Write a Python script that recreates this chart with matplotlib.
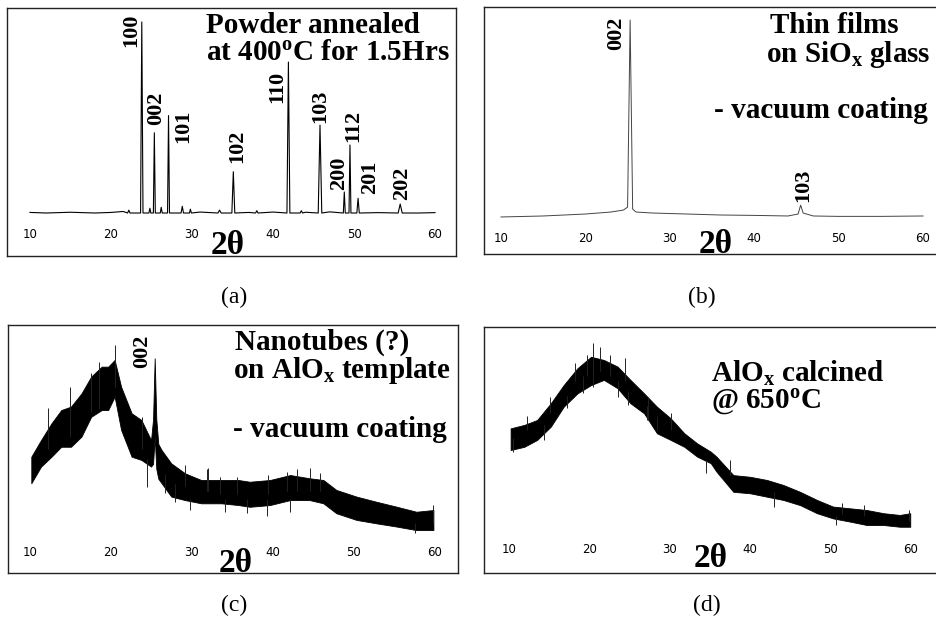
import matplotlib
matplotlib.use("Agg")
import matplotlib.pyplot as plt

plt.rcParams["font.family"] = "DejaVu Sans"
plt.rcParams["mathtext.fontset"] = "custom"
plt.rcParams["mathtext.rm"] = "Liberation Serif:bold"
plt.rcParams["mathtext.it"] = "Liberation Serif:bold"
plt.rcParams["mathtext.bf"] = "Liberation Serif:bold"

W, H = 936, 621
SERIF = "Liberation Serif"

ticks = [10, 20, 30, 40, 50, 60]

# (a) powder annealed at 400C - peak positions (2theta), heights, half widths
a_peak_pos = [22.2, 23.8, 24.8, 25.35, 26.2, 27.1, 28.8, 29.8, 33.4, 35.1, 38.0, 41.9, 43.5, 45.8, 48.8, 49.5, 50.5, 55.7]
a_peak_h = [1.5, 100, 2.5, 42, 3, 51, 3.5, 2, 1.5, 21.6, 1.2, 79, 1.2, 46, 11, 35.6, 7.7, 4.7]
a_peak_w = [0.15, 0.15, 0.12, 0.12, 0.12, 0.12, 0.15, 0.12, 0.2, 0.18, 0.15, 0.18, 0.15, 0.22, 0.12, 0.12, 0.15, 0.25]
a_base_x = [10, 12, 15, 18, 20, 21.5, 31, 37, 40, 44, 47, 53, 58, 60]
a_base_y = [0.3, 0.0, 0.4, 0.0, 0.3, 0.8, 0.5, 0.3, 0.5, 0.4, 0.6, 0.2, 0.0, 0.2]
a_labels = ["100", "002", "101", "102", "110", "103", "200", "112", "201", "202"]
a_label_x = [22.47, 25.53, 28.93, 35.6, 40.56, 45.8, 48.15, 49.85, 51.98, 55.99]
a_label_y = [86.9, 46.0, 36.6, 26.2, 57.6, 47.1, 12.0, 37.2, 10.0, 6.8]

# (b) thin film on SiOx glass
b_x = [10, 15, 20, 23, 24.5, 25.0, 25.3, 25.6, 26, 28, 32, 36, 40, 44, 45.2, 45.5, 45.8, 47, 50, 55, 60]
b_y = [0, 0.5, 1.5, 2.5, 3.5, 5, 100, 4, 2.5, 2, 1.5, 1, 0.8, 0.5, 1.5, 6, 2, 0.5, 0.3, 0.3, 0.5]
b_labels = ["002", "103"]
b_label_x = [23.66, 45.78]
b_label_y = [84.8, 7.6]

# (c) nanotubes on AlOx template - noisy band (upper / lower envelope)
c_x = [10.2, 11.4, 12.7, 13.9, 15.1, 16.4, 17.6, 18.9, 19.7, 20.5, 21.3, 22.6, 23.8, 25.0, 25.25,
       25.45, 25.65, 25.9, 26.3, 27.5, 29.2, 31.2, 33.7, 35.8, 37.2, 39.7, 42.2, 44.6, 46.3, 47.9,
       50.4, 52.9, 55.4, 57.8, 59.9]
c_hi = [46.9, 53.6, 60.4, 65.7, 67.1, 72.4, 79.2, 83.2, 83.2, 85.9, 75.1, 64.4, 61.7, 53.6, 62,
        86.6, 62, 52, 49.6, 44.2, 40.2, 37.5, 37.5, 37.5, 36.8, 37.5, 39.5, 38.2, 37.5, 33.5,
        30.8, 28.7, 26.7, 24.7, 25.4]
c_lo = [36.2, 42.9, 46.9, 50.9, 50.9, 55.0, 63.0, 65.7, 65.7, 71.1, 57.7, 46.9, 45.6, 42.9, 44,
        55, 42, 38, 36.2, 30.8, 29.4, 28.1, 28.1, 27.4, 26.7, 27.4, 29.4, 29.4, 28.1, 24.1,
        21.4, 20.0, 18.7, 17.3, 17.3]
c_spike_x = [12.3, 14.95, 17.6, 18.6, 20.5, 23.9, 24.5, 26.7, 28.0, 29.2, 29.8, 31.9, 32.0,
             33.5, 34.1, 35.6, 36.8, 39.3, 39.5, 41.8, 42.2, 43.0, 44.6, 45.9, 57.6, 59.9]
c_spike_lo = [50, 55, 65, 66, 75, 50, 34.8, 32.1, 28.8, 35, 25.4, 33, 33,
              32, 24.7, 32, 24.1, 23.0, 32, 33, 24.7, 33, 33, 33, 16.0, 20]
c_spike_hi = [66.4, 75.1, 80.5, 85.2, 91.9, 63.0, 46, 40, 36, 43.5, 30, 41.8, 42.2,
              38.8, 30, 38.8, 30, 30, 39.5, 40.8, 30, 41.8, 42.5, 40.2, 20, 27.4]
c_labels = ["002"]
c_label_x = [23.94]
c_label_y = [82.7]

# (d) AlOx calcined at 650C
d_x = [10.2, 11.9, 13.5, 15.2, 16.8, 18.5, 20.2, 21.8, 23.5, 25.1, 26.8, 28.4, 30.1, 31.8, 33.4,
       35.1, 35.8, 37.9, 40.0, 42.1, 44.1, 46.2, 48.3, 50.3, 52.4, 54.5, 56.6, 58.6, 59.9]
d_hi = [58.8, 60.2, 62.2, 69.0, 76.4, 83.2, 87.9, 86.6, 83.9, 78.5, 73.0, 67.6, 62.9, 56.8, 52.7,
        49.3, 47.3, 39.8, 39.1, 37.8, 35.8, 33.0, 29.7, 27.0, 26.3, 25.6, 24.3, 23.6, 24.3]
d_lo = [50.0, 51.3, 54.1, 59.5, 67.6, 73.0, 76.4, 78.5, 75.1, 69.0, 64.9, 56.8, 54.1, 51.3, 47.3,
        44.6, 41.2, 33.0, 32.4, 31.0, 29.7, 27.6, 24.3, 22.2, 20.9, 19.5, 19.5, 18.8, 18.8]
d_spike_x = [10.5, 12.2, 14.3, 15.1, 17.2, 18.2, 19.2, 19.7, 20.5, 21.3, 22.6, 23.6, 24.4,
             24.8, 27.1, 27.3, 28.4, 30.1, 34.5, 37.5, 42.9, 50.7, 51.4, 54.1, 59.7]
d_spike_lo = [49.3, 58, 54.1, 65, 67.0, 78, 73.0, 80, 75.7, 82, 80, 71.7, 78,
              68.3, 62.2, 62, 58.1, 58, 40.5, 40, 27.0, 19.5, 24, 23, 21]
d_spike_hi = [55, 63.8, 60, 71.7, 72, 85.5, 80, 88.6, 93.4, 92.0, 88.6, 78, 87.3,
              74, 68, 71.7, 64, 64.9, 46, 45.9, 33, 23, 28.3, 27.6, 25.6]


fig = plt.figure(figsize=(W / 100, H / 100), dpi=100)


def px_axes(l, t, r, b, xlim, ylim, pad):
    ax = fig.add_axes([l / W, 1 - b / H, (r - l) / W, (b - t) / H])
    ax.set_xlim(xlim)
    ax.set_ylim(ylim)
    ax.set_xticks(ticks)
    ax.set_yticks([])
    ax.tick_params(axis="x", length=0, pad=pad, labelsize=8.5)
    for s in ax.spines.values():
        s.set_color("#222222")
        s.set_linewidth(1.0)
    return ax


def ftext(px, py, s, **kw):
    fig.text(px / W, 1 - py / H, s, **kw)


def two_theta(ax, x, y):
    ax.text(x, y, "2θ", transform=ax.get_xaxis_transform(), ha="center", va="center",
            family=SERIF, weight="bold", fontsize=24)


def peak_labels(ax, labels, xs, ys):
    for lab, x, y in zip(labels, xs, ys):
        ax.text(x, y, lab, rotation=90, ha="center", va="bottom",
                family=SERIF, weight="bold", fontsize=16)


title_kw = dict(family=SERIF, weight="bold", fontsize=21, va="baseline", ha="left")

# ---- (a)
ax = px_axes(7, 8, 456, 256, (7.16, 62.59), (-22.5, 107.3), -20)
pts = list(zip(a_base_x, a_base_y))
for p, h, w in zip(a_peak_pos, a_peak_h, a_peak_w):
    pts += [(p - w, 0.0), (p, h), (p + w, 0.0)]
pts.sort()
ax.plot([p[0] for p in pts], [p[1] for p in pts], color="black", lw=0.8)
peak_labels(ax, a_labels, a_label_x, a_label_y)
two_theta(ax, 34.4, 0.044)
ftext(206, 33, "Powder annealed", **title_kw)
ftext(206, 60, "at 400$^{\\mathrm{o}}$C for 1.5Hrs", **title_kw)

# ---- (b)
ax = px_axes(484, 7, 940, 254, (7.99, 62.01), (-18.8, 106.6), -16)
ax.plot(b_x, b_y, color="#444444", lw=0.7)
peak_labels(ax, b_labels, b_label_x, b_label_y)
two_theta(ax, 35.4, 0.04)
ftext(770, 33, "Thin films", **title_kw)
ftext(766, 62, "on SiO$_{\\mathrm{x}}$ glass", **title_kw)
ftext(714, 118, "- vacuum coating", **title_kw)

# ---- (c)
ax = px_axes(8, 325, 458, 573, (7.32, 62.94), (0, 100), -19.5)
ax.fill_between(c_x, c_lo, c_hi, color="black", lw=0.6)
ax.vlines(c_spike_x, c_spike_lo, c_spike_hi, color="#222222", lw=0.7)
peak_labels(ax, c_labels, c_label_x, c_label_y)
two_theta(ax, 35.4, 0.04)
ftext(235, 350, "Nanotubes (?)", **title_kw)
ftext(233, 378, "on AlO$_{\\mathrm{x}}$ template", **title_kw)
ftext(233, 437, "- vacuum coating", **title_kw)

# ---- (d)
ax = px_axes(484, 327, 940, 573, (6.89, 63.6), (0, 100), -21.5)
ax.fill_between(d_x, d_lo, d_hi, color="black", lw=0.6)
ax.vlines(d_spike_x, d_spike_lo, d_spike_hi, color="#222222", lw=0.7)
two_theta(ax, 35.1, 0.057)
ftext(711, 382, "AlO$_{\\mathrm{x}}$ calcined", **title_kw)
ftext(711, 408, "@ 650$^{\\mathrm{o}}$C", **title_kw)

# captions
cap_kw = dict(family=SERIF, fontsize=17, ha="center", va="center")
ftext(234, 297, "(a)", **cap_kw)
ftext(702, 297, "(b)", **cap_kw)
ftext(234, 605, "(c)", **cap_kw)
ftext(707, 605, "(d)", **cap_kw)

fig.savefig("out.png", dpi=100)
